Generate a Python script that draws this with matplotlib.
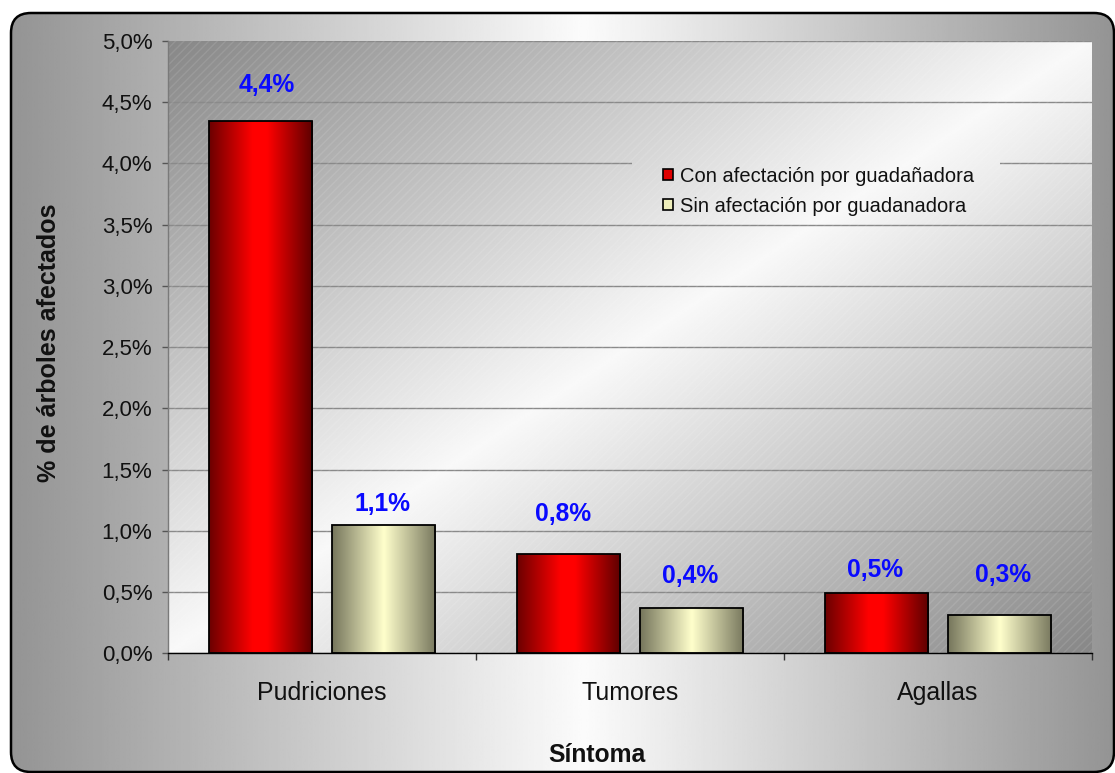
import numpy as np
import matplotlib
matplotlib.use("Agg")
import matplotlib.pyplot as plt
from matplotlib.patches import FancyBboxPatch, Rectangle, Patch
from matplotlib.ticker import FuncFormatter, MultipleLocator, FixedLocator

# ---------------- data ----------------
categories = ["Pudriciones", "Tumores", "Agallas"]
series_names = ["Con afectación por guadañadora", "Sin afectación por guadanadora"]
con_values = [4.35, 0.81, 0.49]          # % árboles afectados
sin_values = [1.05, 0.37, 0.31]
con_labels = ["4,4%", "0,8%", "0,5%"]
sin_labels = ["1,1%", "0,4%", "0,3%"]
y_max = 5.0
y_step = 0.5

# ---------------- style ----------------
plt.rcParams['font.family'] = ['Liberation Sans', 'DejaVu Sans']
W, H = 1115, 773
fig = plt.figure(figsize=(W / 100, H / 100), dpi=100)
fig.patch.set_facecolor('white')

# label offsets (pixels) above bar top, and horizontal nudges
con_label_dy = [29, 33, 16]
sin_label_dy = [14, 25, 33]
con_label_dx = [6, -6, -2]
sin_label_dx = [-1, -1, 4]

# ---------- outer rounded frame with horizontal gradient ----------
bg = fig.add_axes([0, 0, 1, 1], zorder=-10)
bg.axis('off')
xs = np.linspace(0, 1, 600)
prof = np.interp(xs, [0, 0.52, 1], [0.58, 0.985, 0.58])
img = np.tile(prof, (2, 1))
im = bg.imshow(img, cmap='gray', vmin=0, vmax=1, extent=[11, 1114, 772, 13],
               aspect='auto', interpolation='bilinear')
frame = FancyBboxPatch((11, 13), 1103, 759, boxstyle="round,pad=0,rounding_size=20",
                       fc='none', ec='black', lw=1.8, zorder=5)
bg.add_patch(frame)
im.set_clip_path(frame)
bg.set_xlim(0, W)
bg.set_ylim(H, 0)

# ---------- main axes ----------
ax = fig.add_axes([168 / W, 1 - 653.3 / H, 924 / W, 612.3 / H])
ax.patch.set_visible(False)

n = 400
u = np.linspace(0, 1, n)
X, Y = np.meshgrid(u, u)
t = (X + Y) / 2
val = np.interp(t, [0, 0.5, 1], [0.53, 0.975, 0.53])
ax.imshow(val, cmap='gray', vmin=0, vmax=1, extent=[0, 1, 0, 1], transform=ax.transAxes,
          aspect='auto', interpolation='bilinear', zorder=0)
# legend background patch (hides gridline behind legend)
leg_clip = Rectangle((0.502, 0.716), 0.398, 0.106, transform=ax.transAxes, fc='none', ec='none')
ov = ax.imshow(val, cmap='gray', vmin=0, vmax=1, extent=[0, 1, 0, 1], transform=ax.transAxes,
               aspect='auto', interpolation='bilinear', zorder=0.7)
ov.set_clip_path(leg_clip)
# fine diagonal texture
ax.add_patch(Rectangle((0, 0), 1, 1, transform=ax.transAxes, fc='none',
                       ec=(1, 1, 1, 0.10), hatch='////', lw=0, zorder=0.8))

ax.yaxis.grid(True, color='#8a8a8a', lw=1.0)
ax.set_axisbelow(True)

x = np.arange(len(categories))
width = 0.336
off = 0.199
b1 = ax.bar(x - off, con_values, width, fc='none', ec='black', lw=1.3, zorder=3)
b2 = ax.bar(x + off, sin_values, width, fc='none', ec='black', lw=1.3, zorder=3)


def gradient(stops, cols, m=256):
    p = np.linspace(0, 1, m)
    cols = np.array(cols)
    g = np.stack([np.interp(p, stops, cols[:, k]) for k in range(3)], axis=-1)
    return g[np.newaxis, :, :]


red_grad = gradient([0, 0.42, 0.56, 1],
                    [(0.42, 0, 0), (1, 0, 0), (1, 0, 0), (0.36, 0, 0)])
beige_grad = gradient([0, 0.5, 1],
                      [(0.46, 0.46, 0.36), (1, 1, 0.80), (0.47, 0.47, 0.37)])

for bars, g in ((b1, red_grad), (b2, beige_grad)):
    for r in bars:
        x0, w_, h_ = r.get_x(), r.get_width(), r.get_height()
        gi = ax.imshow(g, extent=[x0, x0 + w_, 0, h_], aspect='auto',
                       interpolation='bilinear', zorder=2.5)
        gi.set_clip_path(r)

# data labels
for bars, labs, dys, dxs in ((b1, con_labels, con_label_dy, con_label_dx),
                             (b2, sin_labels, sin_label_dy, sin_label_dx)):
    for r, lab, dy, dx in zip(bars, labs, dys, dxs):
        ax.annotate(lab, xy=(r.get_x() + r.get_width() / 2, r.get_height()),
                    xytext=(dx * 0.72, dy * 0.72), textcoords='offset points',
                    ha='center', va='baseline', color='#0a0aff',
                    fontsize=17.7, fontweight='bold', zorder=5)

ax.set_xlim(-0.5, len(categories) - 0.5)
ax.set_ylim(0, y_max)

# axes / ticks
for s in ('top', 'right'):
    ax.spines[s].set_visible(False)
ax.spines['left'].set_color('#7a7a7a')
ax.spines['left'].set_linewidth(1.0)
ax.spines['bottom'].set_color('black')
ax.spines['bottom'].set_linewidth(1.0)
ax.spines['bottom'].set_zorder(4)

ax.yaxis.set_major_locator(MultipleLocator(y_step))
ax.yaxis.set_major_formatter(FuncFormatter(lambda v, p: f"{v:.1f}%".replace('.', ',')))
ax.tick_params(axis='y', direction='out', length=4.3, width=1, color='#555555',
               labelsize=16, pad=7, labelcolor='#111111')

ax.set_xticks(x)
ax.set_xticklabels(categories)
ax.xaxis.set_minor_locator(FixedLocator(np.arange(len(categories) + 1) - 0.5))
ax.tick_params(axis='x', which='major', length=0, labelsize=17.9, pad=20,
               labelcolor='#111111')
ax.tick_params(axis='x', which='minor', direction='out', length=5, width=1, color='#333333')

ax.set_ylabel('% de árboles afectados', fontsize=18, fontweight='bold', color='#111111')
ax.yaxis.set_label_coords(-0.129, 0.507)
ax.yaxis.label.set_verticalalignment('center')
ax.set_xlabel('Síntoma', fontsize=17.7, fontweight='bold', color='#111111')
ax.xaxis.set_label_coords(0.464, -0.1775)
ax.xaxis.label.set_verticalalignment('baseline')

handles = [Patch(fc='#e00000', ec='black', lw=1.2),
           Patch(fc='#eeeebb', ec='black', lw=1.2)]
leg = ax.legend(handles, series_names, loc='upper left', bbox_to_anchor=(0.5357, 0.795),
                frameon=False, fontsize=14.5, handlelength=0.5, handleheight=0.5,
                handletextpad=0.35, labelspacing=0.55, borderpad=0, borderaxespad=0)
for tx in leg.get_texts():
    tx.set_color('#111111')
leg.set_zorder(6)

fig.savefig('out.png', dpi=100)
